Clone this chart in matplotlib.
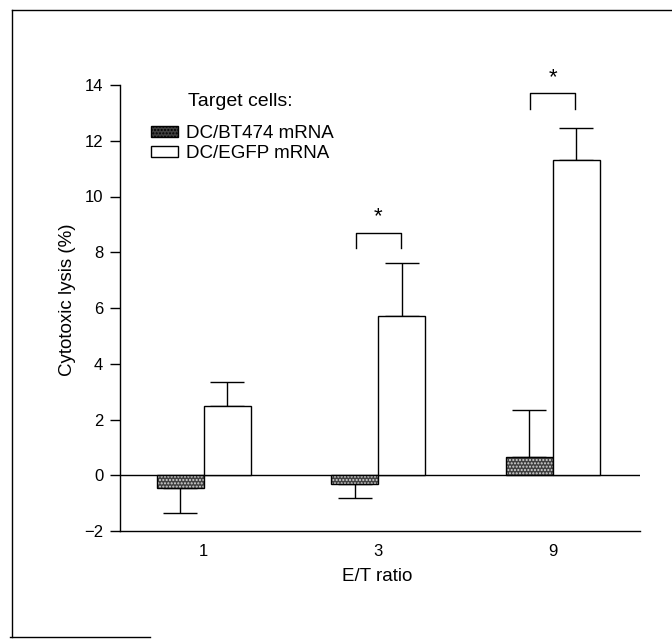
import matplotlib
matplotlib.use('Agg')
import matplotlib.pyplot as plt
import matplotlib.patches as mpatches
import numpy as np

plt.rcParams['font.family'] = ['Liberation Sans', 'DejaVu Sans']

# data
ratios = ['1', '3', '9']
bt474_mean = [-0.45, -0.30, 0.65]
bt474_err = [0.92, 0.52, 1.70]
egfp_mean = [2.47, 5.73, 11.30]
egfp_err = [0.86, 1.87, 1.15]
sig_groups = [1, 2]            # groups with asterisk
sig_heights = [8.7, 13.7]

fig = plt.figure(figsize=(6.72, 6.39), dpi=100)
ax = fig.add_axes([120 / 672, (639 - 531) / 639, 520 / 672, 446 / 639])

ind = np.arange(len(ratios))
bar_width = 0.27

# stippled grey bars
ax.bar(ind - bar_width / 2, bt474_mean, width=bar_width, color='#404040',
       edgecolor='#d8d8d8', hatch='.....', linewidth=0, zorder=2)
ax.bar(ind - bar_width / 2, bt474_mean, width=bar_width, fill=False,
       edgecolor='black', linewidth=1.0, zorder=3)
ax.bar(ind + bar_width / 2, egfp_mean, width=bar_width, color='white',
       edgecolor='black', linewidth=1.0, zorder=3)

# one-sided error bars
bt_lo = [e if m < 0 else 0 for m, e in zip(bt474_mean, bt474_err)]
bt_hi = [0 if m < 0 else e for m, e in zip(bt474_mean, bt474_err)]
ax.errorbar(ind - bar_width / 2, bt474_mean, yerr=[bt_lo, bt_hi], fmt='none',
            ecolor='black', elinewidth=1.0, capsize=12.5, capthick=1.0, zorder=1)
ax.errorbar(ind + bar_width / 2, egfp_mean, yerr=[np.zeros(3), egfp_err], fmt='none',
            ecolor='black', elinewidth=1.0, capsize=12.5, capthick=1.0, zorder=1)

ax.axhline(0, color='black', linewidth=1.0, zorder=1)

# significance brackets
for g, h in zip(sig_groups, sig_heights):
    x0 = ind[g] - 0.13
    x1 = ind[g] + 0.13
    ax.plot([x0, x0, x1, x1], [h - 0.55, h, h, h - 0.55], color='black', linewidth=1.0)
    ax.text(ind[g], h + 0.2, '*', ha='center', va='bottom', fontsize=16)

ax.set_xlim(-0.48, 2.5)
ax.set_ylim(-2, 14)
ax.set_yticks(np.arange(-2, 15, 2))
ax.set_yticklabels(['\u22122', '0', '2', '4', '6', '8', '10', '12', '14'])
ax.set_xticks(ind)
ax.set_xticklabels(ratios)
ax.tick_params(axis='x', length=0, pad=9, labelsize=12)
ax.tick_params(axis='y', length=7, width=1.0, pad=5, labelsize=12)

for s in ['top', 'right']:
    ax.spines[s].set_visible(False)
ax.spines['left'].set_linewidth(1.0)
ax.spines['bottom'].set_linewidth(1.0)
ax.spines['bottom'].set_bounds(-0.48, 2.5)

ax.set_ylabel('Cytotoxic lysis (%)', fontsize=13.5)
ax.yaxis.set_label_coords(-0.085, 0.518)
ax.set_xlabel('E/T ratio', fontsize=13.5)
ax.xaxis.set_label_coords(0.494, -0.083)

# legend
h_bt = mpatches.Patch(facecolor='#404040', edgecolor='black', hatch='.....', linewidth=1.0)
h_eg = mpatches.Patch(facecolor='white', edgecolor='black', linewidth=1.0)
fig.text(188 / 672, 1 - 101 / 639, 'Target cells:', fontsize=14, va='center', ha='left')
ax.legend([h_bt, h_eg], ['DC/BT474 mRNA', 'DC/EGFP mRNA'], loc='upper left',
          bbox_to_anchor=(0.045, 0.927), frameon=False, fontsize=13.5,
          handlelength=1.44, handleheight=0.55, handletextpad=0.43,
          labelspacing=0.17, borderaxespad=0)

# scanned page frame
fig.add_artist(plt.Line2D([12 / 672, 12 / 672], [2 / 639, 629 / 639],
                          color='black', linewidth=1.0))
fig.add_artist(plt.Line2D([12 / 672, 1.0], [629 / 639, 629 / 639],
                          color='black', linewidth=1.0))
fig.add_artist(plt.Line2D([10 / 672, 150 / 672], [2 / 639, 2 / 639],
                          color='black', linewidth=1.0))

fig.savefig('out.png', dpi=100)
